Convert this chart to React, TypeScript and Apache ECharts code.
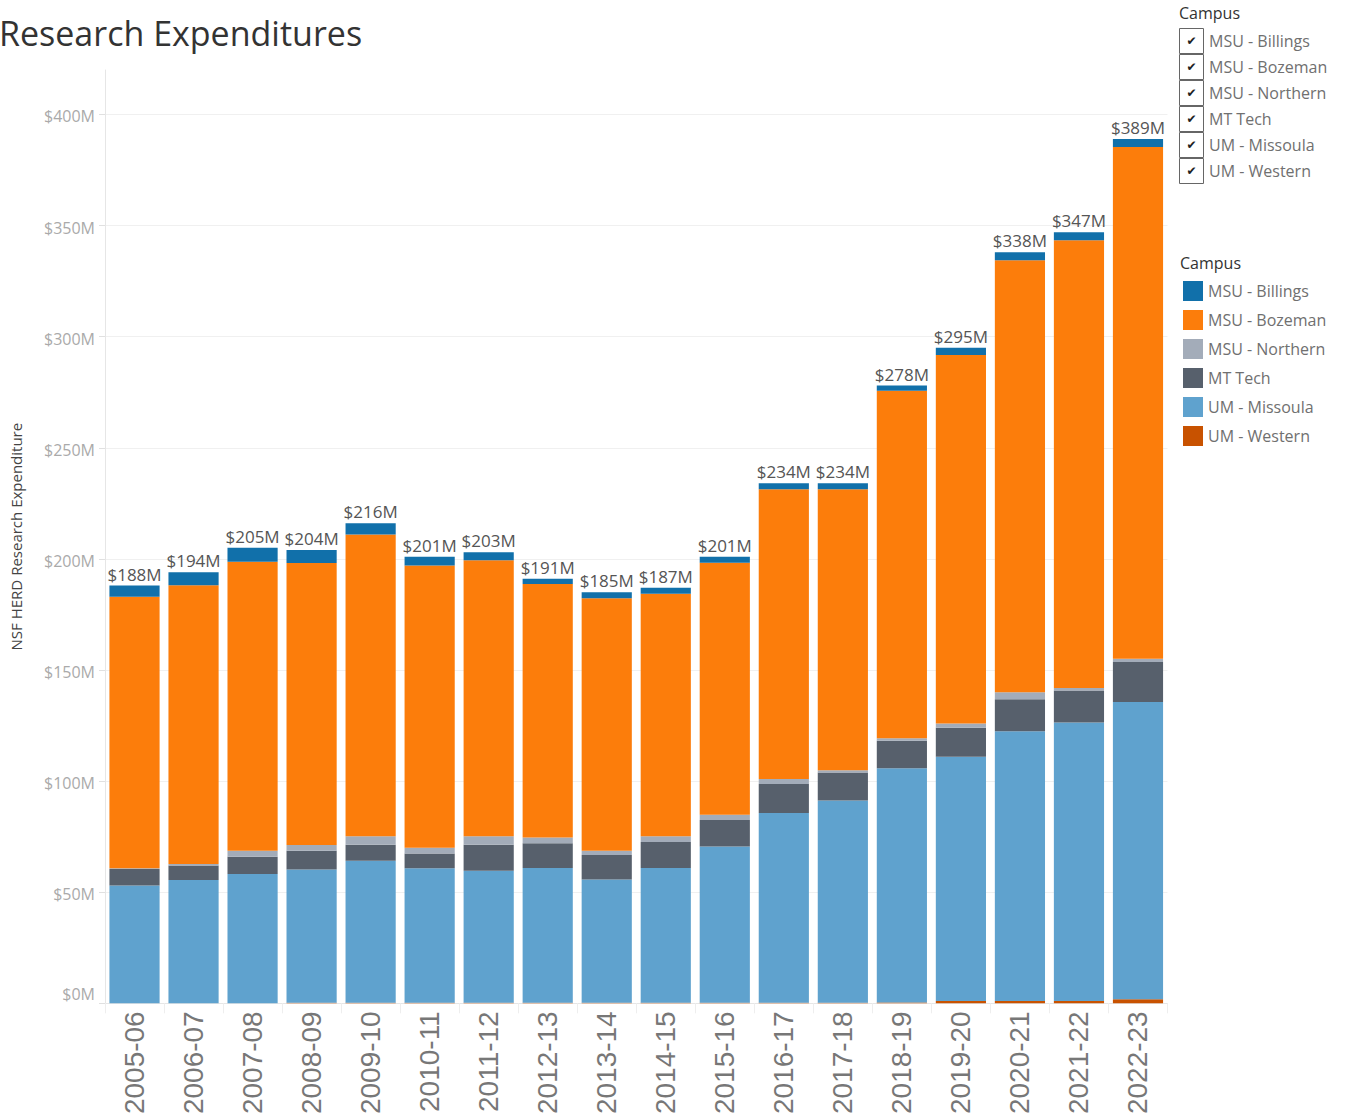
import React, { useEffect, useRef } from "react";
import * as echarts from "echarts";

const years = ["2005-06","2006-07","2007-08","2008-09","2009-10","2010-11","2011-12","2012-13","2013-14","2014-15","2015-16","2016-17","2017-18","2018-19","2019-20","2020-21","2021-22","2022-23"];
const totals = [188,194,205,204,216,201,203,191,185,187,201,234,234,278,295,338,347,389];

const umWestern = [0,0,0,0.3,0.3,0.3,0.3,0.3,0.3,0.3,0.3,0.3,0.3,0.4,1.0,1.0,1.0,1.8];
const umMissoula = [53.0,55.5,58.2,59.9,63.8,60.5,59.4,60.6,55.4,60.6,70.3,85.3,91.0,105.4,109.9,121.4,125.4,133.8];
const mtTech = [7.4,6.5,7.8,8.4,7.2,6.6,11.6,11.1,11.0,11.7,11.9,13.1,12.6,12.3,13.1,14.4,14.4,18.0];
const msuNorthern = [0.4,0.7,2.6,2.6,3.9,2.6,3.9,2.6,1.9,2.6,2.4,2.2,1.0,1.2,1.9,3.2,1.1,1.4];
const msuBozeman = [122.2,125.4,130.1,126.9,135.8,127.0,124.2,114.1,113.7,109.1,113.4,130.4,126.4,156.4,165.9,194.4,201.5,230.4];
const msuBillings = [5.0,5.9,6.3,5.9,5.0,4.0,3.6,2.3,2.7,2.7,2.7,2.7,2.7,2.3,3.2,3.6,3.6,3.6];

const campuses = ["MSU - Billings","MSU - Bozeman","MSU - Northern","MT Tech","UM - Missoula","UM - Western"];
const colors: Record<string, string> = {
  "MSU - Billings": "#1170aa",
  "MSU - Bozeman": "#fc7d0b",
  "MSU - Northern": "#a3acb9",
  "MT Tech": "#57606c",
  "UM - Missoula": "#5fa2ce",
  "UM - Western": "#c85200",
};
// bottom to top
const stack: [string, number[]][] = [
  ["UM - Western", umWestern],
  ["UM - Missoula", umMissoula],
  ["MT Tech", mtTech],
  ["MSU - Northern", msuNorthern],
  ["MSU - Bozeman", msuBozeman],
  ["MSU - Billings", msuBillings],
];

const FONT = "'Open Sans', 'Noto Sans', sans-serif";

export default function App() {
  const ref = useRef<HTMLDivElement>(null);
  useEffect(() => {
    if (!ref.current) return;
    const chart = echarts.init(ref.current, null, { renderer: "svg" });

    const series = stack.map(([name, data], idx) => ({
      name,
      type: "bar",
      stack: "total",
      data,
      barCategoryGap: "15%",
      itemStyle: { color: colors[name] },
      label: idx === stack.length - 1 ? {
        show: true,
        position: "top",
        distance: 3,
        formatter: (p: any) => "$" + totals[p.dataIndex] + "M",
        fontFamily: FONT,
        fontSize: 17,
        color: "#555",
      } : { show: false },
      emphasis: { disabled: true },
    }));

    const checkGraphics: any[] = [
      { type: "text", left: 1179, top: 5, style: { text: "Campus", fontFamily: FONT, fontSize: 16, fill: "#333" } },
    ];
    campuses.forEach((c, i) => {
      checkGraphics.push({
        type: "rect",
        shape: { x: 1179.5, y: 28.5 + i * 26, width: 24, height: 25 },
        style: { fill: "#fff", stroke: "#666", lineWidth: 1 },
      });
      checkGraphics.push({
        type: "text",
        x: 1191.5, y: 41 + i * 26,
        style: { text: "✔", fontSize: 12, fill: "#222", align: "center", verticalAlign: "middle", fontFamily: "DejaVu Sans" },
      });
      checkGraphics.push({
        type: "text",
        x: 1209, y: 41 + i * 26,
        style: { text: c, fontFamily: FONT, fontSize: 16, fill: "#707070", verticalAlign: "middle" },
      });
    });
    checkGraphics.push({ type: "text", left: 1180, top: 255, style: { text: "Campus", fontFamily: FONT, fontSize: 16, fill: "#333" } });

    chart.setOption({
      animation: false,
      title: {
        text: "Research Expenditures",
        left: -6,
        top: 11,
        textStyle: { fontFamily: FONT, fontSize: 34, fontWeight: "normal", color: "#333" },
      },
      legend: {
        orient: "vertical",
        left: 1178,
        top: 276,
        itemWidth: 20,
        itemHeight: 20,
        itemGap: 9,
        icon: "rect",
        data: campuses,
        selectedMode: false,
        textStyle: { fontFamily: FONT, fontSize: 16, color: "#707070" },
      },
      graphic: checkGraphics,
      grid: { left: 105, right: 182.5, top: 70, bottom: 114.7, containLabel: false },
      xAxis: {
        type: "category",
        data: years,
        axisLine: { show: true, lineStyle: { color: "#e6e6e6" } },
        axisTick: { show: true, length: 10, lineStyle: { color: "#eee" } },
        axisLabel: { rotate: 90, fontFamily: "'Liberation Sans', Arial, sans-serif", fontSize: 28, color: "#777", margin: 8 },
      },
      yAxis: {
        type: "value",
        min: 0,
        max: 420,
        interval: 50,
        name: "NSF HERD Research Expenditure",
        nameLocation: "middle",
        nameGap: 82,
        nameTextStyle: { fontFamily: FONT, fontSize: 15, color: "#444" },
        axisLine: { show: true, lineStyle: { color: "#e6e6e6" } },
        axisTick: { show: true, length: 6, lineStyle: { color: "#e0e0e0" } },
        splitLine: { show: true, showMaxLine: false, lineStyle: { color: "#f0f0f0" } },
        axisLabel: {
          fontFamily: FONT,
          fontSize: 16,
          color: "#aaa",
          margin: 10,
          showMaxLabel: false,
          padding: [4, 0, 0, 0],
          formatter: (v: number) => (v % 50 !== 0 ? "" : v === 0 ? "{z|$0M}" : "$" + v + "M"),
          rich: { z: { fontFamily: FONT, fontSize: 16, color: "#aaa", padding: [0, 0, 22, 0] } },
        },
      },
      series,
    });
    return () => chart.dispose();
  }, []);
  return <div ref={ref} style={{ position: "absolute", left: 0, top: 0, width: 1350, height: 1118 }} />;
}
